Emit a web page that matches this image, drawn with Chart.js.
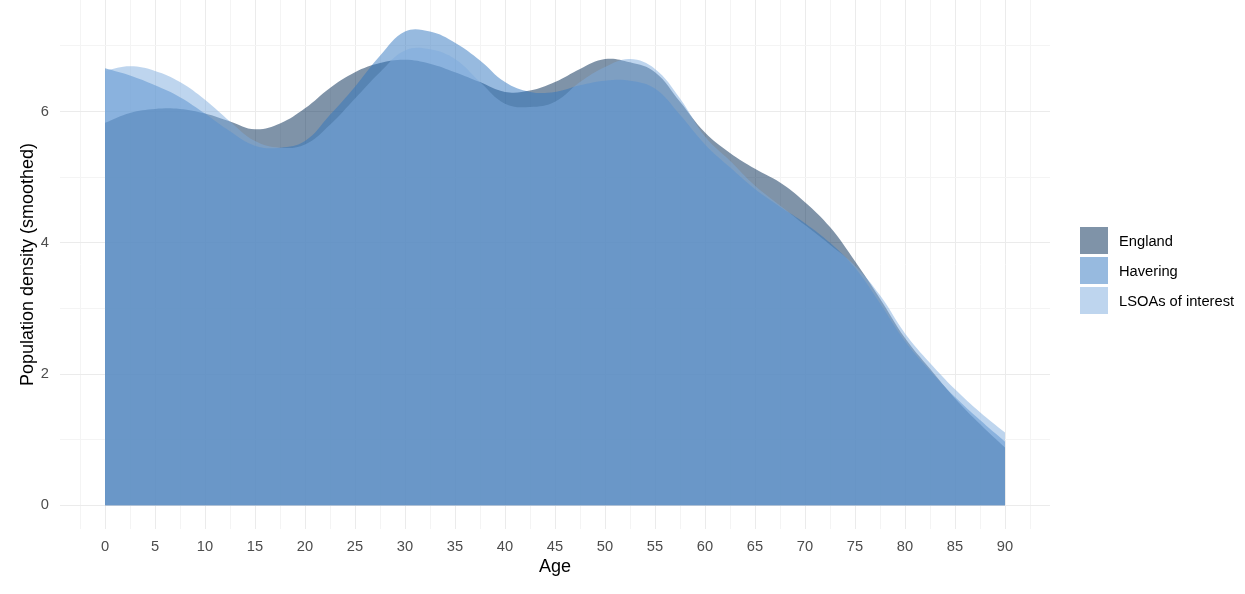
<!DOCTYPE html>
<html>
<head>
<meta charset="utf-8">
<script src="https://cdn.jsdelivr.net/npm/chart.js"></script>
<style>
  body { margin: 0; background: #fff; }
</style>
</head>
<body>
<canvas id="densityChart" width="1245" height="594"></canvas>
<script>
//density.js
var ages = [0, 2.5, 5, 7.5, 10, 12.5, 15, 17.5, 20, 22.5, 25, 27.5, 30, 32.5, 35, 37.5, 40, 42.5,
    45, 47.5, 50, 52.5, 55, 57.5, 60, 62.5, 65, 67.5, 70, 72.5, 75, 77.5, 80, 82.5, 85, 87.5, 90];

var englandDensity = [5.83, 5.98, 6.04, 6.04, 5.97, 5.85, 5.73, 5.82, 6.05, 6.36, 6.6, 6.74, 6.79,
    6.73, 6.6, 6.45, 6.3, 6.32, 6.45, 6.65, 6.8, 6.75, 6.6, 6.15, 5.68, 5.37, 5.13, 4.92, 4.62,
    4.24, 3.72, 3.15, 2.55, 2.08, 1.63, 1.24, 0.88];

var haveringDensity = [6.66, 6.55, 6.4, 6.22, 5.97, 5.7, 5.48, 5.45, 5.55, 5.95, 6.38, 6.85, 7.22,
    7.22, 7.05, 6.78, 6.45, 6.3, 6.3, 6.4, 6.47, 6.47, 6.35, 5.95, 5.5, 5.15, 4.82, 4.55, 4.3,
    4.0, 3.62, 3.08, 2.5, 2.05, 1.65, 1.3, 0.97];

var lsoaDensity = [6.62, 6.69, 6.62, 6.45, 6.18, 5.85, 5.55, 5.45, 5.5, 5.8, 6.2, 6.6, 6.93,
    6.95, 6.8, 6.45, 6.12, 6.07, 6.15, 6.45, 6.68, 6.8, 6.65, 6.2, 5.62, 5.25, 4.87, 4.57, 4.27,
    3.97, 3.65, 3.2, 2.62, 2.17, 1.77, 1.42, 1.11];

var seriesNames = ["England", "Havering", "LSOAs of interest"];
var xTicks = [0, 5, 10, 15, 20, 25, 30, 35, 40, 45, 50, 55, 60, 65, 70, 75, 80, 85, 90];
var yTicks = [0, 2, 4, 6];

var fontName = "'Liberation Sans', Arial, sans-serif";

function points(values) {
    return ages.map(function (a, i) {
        return { x: a, y: values[i] };
    });
}

function area(label, values, colour, order) {
    return {
        label: label,
        data: points(values),
        backgroundColor: colour,
        borderColor: "transparent",
        borderWidth: 0,
        pointRadius: 0,
        fill: "origin",
        tension: 0.4,
        order: order
    };
}

let myChart = document.getElementById("densityChart").getContext('2d');

var data = {
    datasets: [
        area(seriesNames[0], englandDensity, "rgba(0, 39, 81, 0.5)", 3),
        area(seriesNames[1], haveringDensity, "rgba(47, 118, 192, 0.5)", 2),
        area(seriesNames[2], lsoaDensity, "rgba(125, 171, 221, 0.5)", 1)
    ]
};

// legend drawn by hand to the right of the panel
var sideLegend = {
    id: "sideLegend",
    afterDraw: function (chart) {
        var c = chart.ctx;
        var left = chart.chartArea.right + 30;
        var top = 227;
        c.save();
        c.font = "14.7px " + fontName;
        c.textBaseline = "middle";
        c.textAlign = "left";
        chart.data.datasets.forEach(function (ds, i) {
            var y = top + i * 30;
            c.fillStyle = ds.backgroundColor;
            c.fillRect(left, y, 28, 27);
            c.fillStyle = "#000000";
            c.fillText(ds.label, left + 39, y + 15);
        });
        c.restore();
    }
};

var options = {
    responsive: false,
    animation: false,
    layout: {
        padding: { left: 0, right: 195, top: 0, bottom: 0 }
    },
    plugins: {
        legend: { display: false },
        tooltip: { enabled: false }
    },
    scales: {
        x: {
            type: "linear",
            min: -4.5,
            max: 94.5,
            afterFit: function (s) { s.height = 65; },
            border: { display: false },
            grid: {
                drawTicks: false,
                color: function (c) {
                    return xTicks.indexOf(c.tick.value) >= 0 ? "#ebebeb" : "#f4f4f4";
                }
            },
            ticks: {
                stepSize: 2.5,
                includeBounds: false,
                autoSkip: false,
                maxRotation: 0,
                padding: 9,
                color: "#4d4d4d",
                font: { family: fontName, size: 14.7 },
                callback: function (v) {
                    return xTicks.indexOf(v) >= 0 ? String(v) : "";
                }
            },
            title: {
                display: true,
                text: "Age",
                color: "#000000",
                font: { family: fontName, size: 18 },
                padding: { top: 0, bottom: 16 }
            }
        },
        y: {
            min: -0.36,
            max: 7.7,
            afterFit: function (s) {
                s.width = 60;
                s.paddingTop = 0;
                s.paddingBottom = 0;
            },
            border: { display: false },
            grid: {
                drawTicks: false,
                color: function (c) {
                    return yTicks.indexOf(c.tick.value) >= 0 ? "#ebebeb" : "#f4f4f4";
                }
            },
            ticks: {
                stepSize: 1,
                includeBounds: false,
                padding: 11,
                color: "#4d4d4d",
                font: { family: fontName, size: 14.7 },
                callback: function (v) {
                    return yTicks.indexOf(v) >= 0 ? String(v) : "";
                }
            },
            title: {
                display: true,
                text: "Population density (smoothed)",
                color: "#000000",
                font: { family: fontName, size: 18 },
                padding: { top: 17, bottom: 0 }
            }
        }
    }
};

let chart = new Chart(myChart, {
    type: "line",
    data: data,
    options: options,
    plugins: [sideLegend]
});
</script>
</body>
</html>
